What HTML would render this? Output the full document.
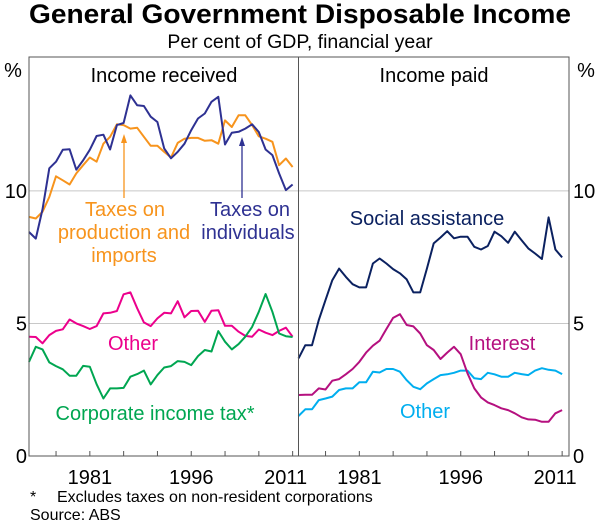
<!DOCTYPE html>
<html><head><meta charset="utf-8"><style>
body{margin:0;background:#fff;}
svg text{font-family:"Liberation Sans",Arial,sans-serif;}
</style></head><body>
<svg id="chart" width="600" height="526" viewBox="0 0 600 526" xmlns="http://www.w3.org/2000/svg">
<text x="300" y="23" text-anchor="middle" font-size="27" font-weight="bold" fill="#000" textLength="542" lengthAdjust="spacingAndGlyphs">General Government Disposable Income</text>
<text x="300" y="48" text-anchor="middle" font-size="19.5" fill="#000">Per cent of GDP, financial year</text>
<g id="grid"></g>
<g id="series"></g>
<g id="axes"></g>
<text x="164" y="82" text-anchor="middle" font-size="20">Income received</text>
<text x="434" y="82" text-anchor="middle" font-size="20">Income paid</text>
<text x="13" y="77" text-anchor="middle" font-size="20">%</text>
<text x="586" y="77" text-anchor="middle" font-size="20">%</text>
<g fill="#F7941D" font-size="20" text-anchor="middle">
<text x="125" y="216">Taxes on</text><text x="124" y="239">production and</text><text x="124" y="262">imports</text></g>
<g fill="#2E3192" font-size="20" text-anchor="middle">
<text x="250" y="216">Taxes on</text><text x="248" y="239">individuals</text></g>
<text x="133" y="350" text-anchor="middle" font-size="20" fill="#EC008C">Other</text>
<text x="155" y="420" text-anchor="middle" font-size="20" fill="#00A651">Corporate income tax*</text>
<text x="427" y="225" text-anchor="middle" font-size="20" fill="#0B2160">Social assistance</text>
<text x="502" y="350" text-anchor="middle" font-size="20" fill="#B5107F">Interest</text>
<text x="425" y="418" text-anchor="middle" font-size="20" fill="#00AEEF">Other</text>
<g stroke="#F7941D" fill="#F7941D">
<line x1="124" y1="198" x2="124" y2="140" stroke-width="1.3"/><polygon points="124,134 121,143 127,143" stroke="none"/></g>
<g stroke="#2E3192" fill="#2E3192">
<line x1="242" y1="198" x2="242" y2="143" stroke-width="1.3"/><polygon points="242,137 239,146 245,146" stroke="none"/></g>
<text x="30" y="502" font-size="16">*</text>
<text x="57" y="502" font-size="16">Excludes taxes on non-resident corporations</text>
<text x="30" y="520" font-size="16">Source: ABS</text>
</svg>
<script>
const years=[];for(let y=1972;y<=2011;y++)years.push(y);
const taxesIndividuals=[8.45,8.2,9.3,10.85,11.1,11.55,11.57,10.8,11.15,11.55,12.07,12.12,11.56,12.48,12.56,13.6,13.23,13.2,12.8,12.6,11.6,11.23,11.47,11.78,12.29,12.73,12.92,13.36,13.55,11.75,12.19,12.23,12.35,12.51,12.22,11.56,11.35,10.66,10.03,10.24];
const taxesProduction=[9.02,8.96,9.21,9.77,10.55,10.4,10.24,10.66,10.97,11.26,11.1,11.78,12.04,12.51,12.48,12.35,12.38,12.04,11.7,11.7,11.47,11.26,11.81,11.97,12.0,12.0,11.89,11.91,11.78,12.66,12.41,12.85,12.85,12.48,12.06,11.97,11.85,10.97,11.22,10.9];
const otherReceived=[4.5,4.49,4.25,4.56,4.72,4.78,5.15,5.0,4.9,4.79,4.9,5.38,5.4,5.47,6.1,6.17,5.57,5.04,4.9,5.19,5.4,5.38,5.84,5.23,5.47,5.48,5.06,5.48,5.5,4.91,4.91,4.69,4.53,4.5,4.77,4.65,4.56,4.72,4.84,4.5];
const corporateTax=[3.55,4.12,4.02,3.53,3.39,3.27,3.03,3.03,3.4,3.37,2.71,2.17,2.55,2.55,2.57,2.99,3.09,3.22,2.7,3.05,3.34,3.39,3.58,3.55,3.43,3.77,4.0,3.94,4.71,4.31,4.02,4.22,4.5,4.87,5.44,6.11,5.44,4.62,4.52,4.49];
const socialAssistance=[3.68,4.18,4.18,5.13,5.88,6.63,7.07,6.76,6.48,6.36,6.36,7.26,7.45,7.26,7.05,6.89,6.66,6.17,6.17,7.07,8.02,8.24,8.48,8.21,8.27,8.27,7.89,7.79,7.92,8.46,8.29,8.04,8.46,8.14,7.83,7.64,7.43,9.0,7.79,7.49];
const interestPaid=[2.3,2.31,2.31,2.55,2.51,2.84,2.9,3.08,3.28,3.55,3.9,4.16,4.35,4.79,5.21,5.35,4.94,4.89,4.62,4.18,4.0,3.66,3.9,4.12,3.84,3.12,2.55,2.21,2.02,1.92,1.8,1.73,1.61,1.46,1.38,1.37,1.29,1.29,1.61,1.73];
const otherPaid=[1.51,1.76,1.76,2.11,2.17,2.24,2.49,2.55,2.55,2.78,2.78,3.18,3.15,3.28,3.28,3.18,2.86,2.61,2.52,2.74,2.9,3.05,3.08,3.14,3.22,3.22,2.93,2.9,3.14,3.08,2.99,2.99,3.14,3.09,3.05,3.22,3.31,3.25,3.22,3.09];
const yTicks=[0,5,10];
const xTickLabels=[1981,1996,2011];

const NS='http://www.w3.org/2000/svg';
const PX0=29,PMID=298.5,PX1=569,Y0=456,YT=57;
function yS(v){return Y0-v*(Y0-YT)/15.05;}
function xL(yr){return PX0+(yr-1972)*6.76;}
function xR(yr){return PMID+(yr-1972)*6.76;}
function mk(tag,attrs,parent){const e=document.createElementNS(NS,tag);for(const k in attrs)e.setAttribute(k,attrs[k]);parent.appendChild(e);return e;}
const grid=document.getElementById('grid'),axes=document.getElementById('axes'),ser=document.getElementById('series');
yTicks.forEach(v=>{if(v===0)return;
 const g=mk('line',{x1:PX0,x2:PX1,y1:yS(v),y2:yS(v),stroke:'#c8c8c8','stroke-width':1},grid);
 
 
});
yTicks.forEach(v=>{
 const t1=mk('text',{x:PX0-2,y:yS(v)+7,'text-anchor':'end','font-size':20},axes);t1.textContent=v;
 
 
 const t2=mk('text',{x:PX1+4,y:yS(v)+7,'text-anchor':'start','font-size':20},axes);t2.textContent=v;
 
 
});
const frame=mk('rect',{x:PX0,y:YT,width:PX1-PX0,height:Y0-YT,fill:'none',stroke:'#555','stroke-width':1},axes);


const div=mk('line',{x1:PMID,x2:PMID,y1:YT,y2:Y0,stroke:'#555','stroke-width':1},axes);


for(let yr=1976;yr<=2011;yr+=5){
 [xL(yr),xR(yr)].forEach(x=>{
  const t=mk('line',{x1:x,x2:x,y1:Y0,y2:Y0-5,stroke:'#555','stroke-width':1},axes);
  
  
 });
}
xTickLabels.forEach(yr=>{
 [xL(yr),xR(yr)].forEach(x=>{
  const t=mk('text',{x:yr===2011?x-7:x,y:484,'text-anchor':'middle','font-size':20},axes);t.textContent=yr;
  
  
 });
});
function line(data,xf,color,name){
 const d=data.map((v,i)=>(i?'L':'M')+xf(years[i]).toFixed(1)+','+yS(v).toFixed(1)).join('');
 const p=mk('path',{d:d,fill:'none',stroke:color,'stroke-width':2,'stroke-linejoin':'round'},ser);
 
 
}
line(taxesProduction,xL,'#F7941D','line-taxes-production');
line(taxesIndividuals,xL,'#2E3192','line-taxes-individuals');
line(otherReceived,xL,'#EC008C','line-other-received');
line(corporateTax,xL,'#00A651','line-corporate-tax');
line(otherPaid,xR,'#00AEEF','line-other-paid');
line(interestPaid,xR,'#B5107F','line-interest');
line(socialAssistance,xR,'#0B2160','line-social-assistance');
</script>
</body></html>
